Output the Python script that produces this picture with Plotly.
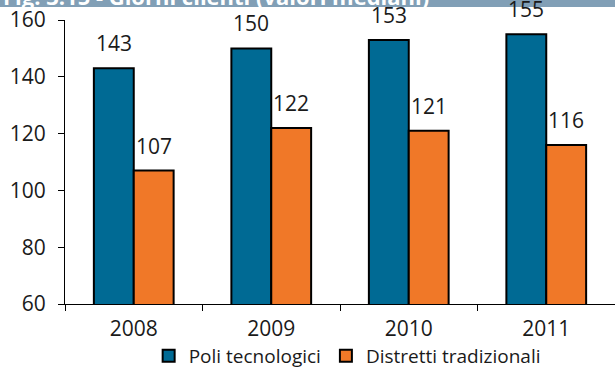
import plotly.graph_objects as go

years = ["2008", "2009", "2010", "2011"]
poli = [143, 150, 153, 155]
distretti = [107, 122, 121, 116]
series_names = ["Poli tecnologici", "Distretti tradizionali"]
colors = ["#006a94", "#f07828"]
title_text = "Fig. 3.15 - Giorni clienti (valori mediani)"

FONT = "Open Sans"

fig = go.Figure()
for name, vals, col in zip(series_names, [poli, distretti], colors):
    fig.add_trace(go.Bar(
        x=years, y=vals, name=name,
        marker=dict(color=col, line=dict(color="#000000", width=2)),
        base=0,
    ))

annotations = []
for i, vals in enumerate([poli, distretti]):
    offset = -0.5 if i == 0 else 0.5
    for k, v in enumerate(vals):
        annotations.append(dict(
            x=k + offset * 0.29, y=v, xref="x", yref="y",
            text=str(v), showarrow=False, yanchor="bottom",
            yshift=9, font=dict(family=FONT, size=21, color="#1a1a1a"),
        ))

annotations.append(dict(
    x=0, xref="paper", y=1, yref="paper", xanchor="left", yanchor="bottom",
    xshift=-64, yshift=7, text="<b>" + title_text + "</b>", showarrow=False,
    font=dict(family=FONT, size=22, color="#ffffff"),
))

fig.update_layout(
    width=615, height=374,
    margin=dict(l=65, r=0, t=20, b=70, autoexpand=False),
    paper_bgcolor="white", plot_bgcolor="white",
    barmode="group", bargap=0.42, bargroupgap=0,
    font=dict(family=FONT, size=19, color="#1a1a1a"),
    showlegend=True,
    legend=dict(orientation="h", x=0.513, xanchor="center", y=-0.116, yanchor="top",
                font=dict(family=FONT, size=19, color="#1a1a1a"),
                itemwidth=30, traceorder="normal", tracegroupgap=0),
    annotations=annotations,
    shapes=[dict(type="rect", xref="paper", yref="paper", x0=-0.2, x1=1.0,
                 ysizemode="pixel", yanchor=1, y0=13, y1=40,
                 layer="below", fillcolor="#819fb6", line=dict(width=0))],
)

fig.update_xaxes(
    type="category", showline=True, linecolor="#000000", linewidth=1,
    ticks="outside", ticklen=6, tickcolor="#000000", tickson="boundaries",
    showgrid=False, tickfont=dict(family=FONT, size=21), ticklabelstandoff=6,
    automargin=False,
)
fig.update_yaxes(
    range=[60, 160], dtick=20, showline=True, linecolor="#000000", linewidth=1,
    ticks="outside", ticklen=6, tickcolor="#000000", showgrid=False, zeroline=False,
    tickfont=dict(family=FONT, size=21), ticklabelstandoff=8, automargin=False,
)

fig.write_html("out.html", config={"displayModeBar": False},
               post_script="document.body.style.margin='0';document.body.style.overflow='hidden';")
